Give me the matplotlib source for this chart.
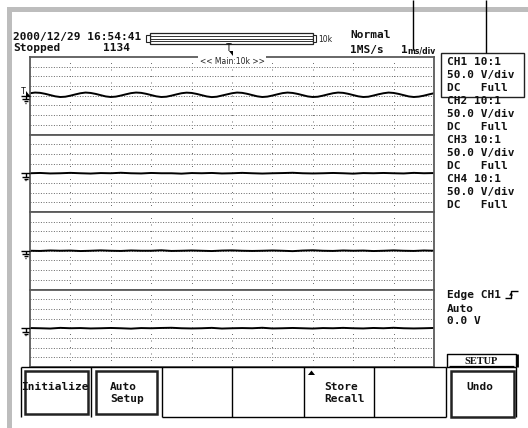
import numpy as np
import matplotlib.pyplot as plt
from matplotlib.patches import Rectangle, Polygon

# screen size in pixels
W, H = 528, 428

# waveform data, in divisions (10 div across, 8 div per channel window)
ch1_t = np.arange(81) * 0.125
ch1_v = [0.26, 0.33, 0.30, 0.20, 0.07, -0.06, -0.13, -0.10, 0.01, 0.14,
         0.26, 0.33, 0.29, 0.19, 0.06, -0.07, -0.13, -0.09, 0.02, 0.15,
         0.27, 0.33, 0.30, 0.20, 0.07, -0.06, -0.13, -0.10, 0.01, 0.14,
         0.26, 0.32, 0.29, 0.19, 0.06, -0.07, -0.14, -0.10, 0.02, 0.14,
         0.26, 0.33, 0.30, 0.20, 0.07, -0.06, -0.13, -0.09, 0.02, 0.15,
         0.27, 0.33, 0.29, 0.19, 0.06, -0.07, -0.13, -0.10, 0.01, 0.14,
         0.26, 0.33, 0.30, 0.20, 0.07, -0.06, -0.13, -0.10, 0.02, 0.15,
         0.26, 0.33, 0.29, 0.19, 0.06, -0.07, -0.13, -0.09, 0.01, 0.14,
         0.26]
flat_t = np.arange(41) * 0.25
ch2_v = [0.00, 0.03, -0.02, 0.00, 0.04, 0.00, -0.03, 0.02, 0.00, 0.05,
         0.00, -0.02, 0.03, 0.00, 0.00, -0.04, 0.02, 0.00, 0.03, -0.02,
         0.00, 0.04, 0.00, -0.03, 0.00, 0.02, 0.05, 0.00, -0.02, 0.00,
         0.03, 0.00, -0.04, 0.02, 0.00, 0.03, 0.00, -0.02, 0.04, 0.00,
         0.02]
ch3_v = [0.00, -0.02, 0.03, 0.00, 0.02, -0.03, 0.00, 0.04, 0.00, -0.02,
         0.03, 0.00, 0.00, 0.05, -0.02, 0.00, 0.03, 0.00, -0.03, 0.02,
         0.04, 0.00, -0.02, 0.00, 0.03, 0.00, -0.04, 0.02, 0.05, 0.00,
         -0.02, 0.03, 0.00, 0.02, -0.03, 0.00, 0.04, 0.00, -0.02, 0.03,
         0.00]
ch4_v = [0.02, 0.00, -0.03, 0.04, 0.00, 0.02, -0.02, 0.00, 0.03, 0.00,
         -0.04, 0.02, 0.00, 0.03, 0.05, 0.00, -0.02, 0.00, 0.04, -0.03,
         0.00, 0.02, 0.00, 0.05, -0.02, 0.00, 0.03, 0.00, -0.03, 0.02,
         0.00, 0.04, 0.00, -0.02, 0.03, 0.00, 0.05, 0.00, -0.02, 0.00,
         0.03]
traces = [(ch1_t, ch1_v), (flat_t, ch2_v), (flat_t, ch3_v), (flat_t, ch4_v)]

# labels
channels = ["CH1", "CH2", "CH3", "CH4"]
probe = "10:1"
vdiv = "50.0 V/div"
coupling = "DC"
bandwidth = "Full"
buttons = [["Initialize"], ["Auto", "Setup"], [], [], ["Store", "Recall"], [], ["Undo"]]
button_x = [21, 91, 162, 232, 304, 374, 446, 516]

fig = plt.figure(figsize=(W / 100, H / 100), dpi=100)

# waveform windows
GX0, GX1, GY0, GY1 = 30, 434, 57, 367
zone_h = (GY1 - GY0) / 4
for i, (t, v) in enumerate(traces):
    top = GY0 + i * zone_h
    a = fig.add_axes([GX0 / W, 1 - (top + zone_h) / H, (GX1 - GX0) / W, zone_h / H])
    a.set_xlim(0, 10)
    a.set_ylim(-4, 4)
    a.set_xticks([])
    a.set_yticks([])
    for s in a.spines.values():
        s.set_color('#5a5a5a')
        s.set_linewidth(1.3)
    for y in range(-3, 4):
        a.axhline(y, color='#6e6e6e', lw=0.72, ls=(0, (1, 1.6)))
    for x in range(1, 10):
        a.axvline(x, color='#6e6e6e', lw=0.72, ls=(0, (1, 5.5)))
    a.plot(t, v, color='black', lw=1.4)
    if i == 0:
        a.text(5, 3.55, "<< Main:10k >>", ha='center', va='center', fontsize=5.5,
               family='DejaVu Sans', color='#222',
               bbox=dict(boxstyle='square,pad=0.15', fc='white', ec='none'))

# overlay in pixel coordinates
ov = fig.add_axes([0, 0, 1, 1], zorder=5)
ov.set_xlim(0, W)
ov.set_ylim(H, 0)
ov.axis('off')

MONO = dict(family='DejaVu Sans Mono', fontsize=8, fontweight='bold', color='#111')


def txt(x, y, s, **kw):
    style = dict(MONO)
    style.update(kw)
    ov.text(x, y, s, va='baseline', ha='left', **style)


def line(xs, ys, lw=1.0, color='black'):
    ov.plot(xs, ys, color=color, lw=lw, solid_capstyle='butt')


# gray bezel
ov.add_patch(Rectangle((7, 7), W - 7, 5, fc='#bdbdbd', ec='none'))
ov.add_patch(Rectangle((7, 7), 5, H - 7, fc='#bdbdbd', ec='none'))

# callout lines
line([413, 413], [0, 50])
line([486, 486], [0, 53])

# header
txt(13, 39.5, "2000/12/29 16:54:41")
txt(13, 51, "Stopped")
txt(103, 51, "1134")
txt(350, 38, "Normal")
txt(350, 53, "1MS/s")
txt(401, 53, "1")
ov.text(407, 53, "ms/div", va='baseline', ha='left', fontsize=5.5, family='DejaVu Sans',
        fontweight='bold', color='#111')

# record length bar
ov.add_patch(Rectangle((150, 33), 163, 11, fc='white', ec='#222', lw=0.9))
for y in [36, 38.5, 41]:
    line([150, 313], [y, y], lw=0.7, color='#333')
ov.add_patch(Rectangle((146, 35), 4, 7, fc='white', ec='#222', lw=0.8))
ov.add_patch(Rectangle((313, 35), 3, 7, fc='white', ec='#222', lw=0.8))
ov.text(318, 39.5, "10k", va='center', ha='left', fontsize=5.5, family='DejaVu Sans', color='#222')
ov.text(229, 51, "T", va='baseline', ha='center', fontsize=7, family='DejaVu Sans Mono', color='#111')
ov.add_patch(Polygon([(228.5, 51), (233, 51), (233, 55.5)], closed=True, fc='black', ec='none'))

# channel settings
ov.add_patch(Rectangle((441, 53), 83, 44, fc='none', ec='#222', lw=1.0))
for i, ch in enumerate(channels):
    y0 = 65 + i * 39
    txt(447, y0, f"{ch} {probe}")
    txt(447, y0 + 13, vdiv)
    txt(447, y0 + 26, f"{coupling}   {bandwidth}")

# trigger settings
txt(447, 298, "Edge CH1")
line([505, 511, 511, 518], [298, 298, 291, 291], lw=1.0)
ov.add_patch(Polygon([(509, 295.5), (513, 295.5), (511, 292.5)], closed=True, fc='black', ec='none'))
txt(447, 312, "Auto")
txt(447, 324.5, "0.0 V")

# ground markers
for i in range(4):
    gy = GY0 + (i + 0.5) * zone_h
    line([21, 30], [gy, gy], lw=1.0)
    line([25.5, 25.5], [gy, gy + 3.5], lw=1.0)
    line([22, 29], [gy + 3.5, gy + 3.5], lw=1.0)
    line([23.5, 27.5], [gy + 5.5, gy + 5.5], lw=1.0)
    line([24.8, 26.2], [gy + 7.2, gy + 7.2], lw=1.0)
ov.text(23, 93.5, "T", va='baseline', ha='center', fontsize=6, family='DejaVu Sans Mono', color='#111')
ov.add_patch(Polygon([(25.5, 91), (25.5, 95.5), (29.5, 95.5)], closed=True, fc='black', ec='none'))

# SETUP tab
line([447, 447, 516, 516], [367, 354, 354, 367], lw=1.0)
line([516.5, 516.5], [354, 367], lw=2.0)
line([449, 514], [365.5, 365.5], lw=0.9)
ov.text(481, 364, "SETUP", va='baseline', ha='center', fontsize=7.5, family='Liberation Serif',
        fontweight='bold', color='#111')

# soft keys
line([21, 446], [367, 367], lw=1.0)
line([446, 516], [367, 367], lw=1.0)
for x in button_x:
    line([x, x], [367, 417], lw=1.0)
line([162, 446], [417, 417], lw=1.0)
for x0, x1, y1 in [(25, 88, 414), (96, 157, 414), (451, 514, 417)]:
    ov.add_patch(Rectangle((x0, 371), x1 - x0, y1 - 371, fc='none', ec='#222', lw=1.8))
ov.add_patch(Polygon([(308, 375), (315, 375), (311.5, 370.5)], closed=True, fc='black', ec='none'))
label_x = [21, 110, None, None, 324, None, 466]
for lines, lx in zip(buttons, label_x):
    for k, s in enumerate(lines):
        txt(lx, 390 + k * 12, s)

fig.savefig('out.png', dpi=100)
